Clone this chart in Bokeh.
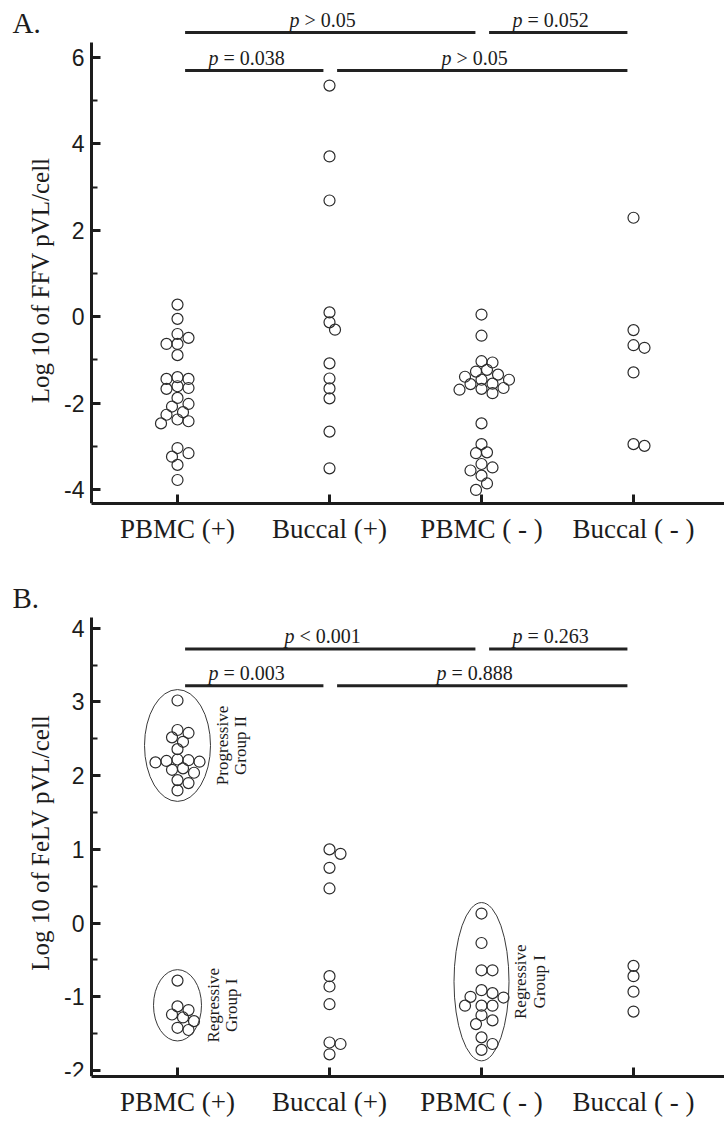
import math
from bokeh.plotting import figure
from bokeh.layouts import column
from bokeh.models import FixedTicker, SingleIntervalTicker, ColumnDataSource, Range1d
from bokeh.core.properties import value
from bokeh.embed import file_html
from bokeh.resources import INLINE

categories = ["PBMC (+)", "Buccal (+)", "PBMC ( - )", "Buccal ( - )"]

# ---------------- Panel A: Log 10 of FFV pVL/cell ----------------
a_pbmc_pos = [0.28, -0.05, -0.40, -0.49, -0.63, -0.63, -0.89, -1.40, -1.44, -1.44,
              -1.61, -1.65, -1.67, -1.88, -2.02, -2.08, -2.21, -2.27, -2.38, -2.42,
              -2.47, -3.04, -3.16, -3.24, -3.43, -3.78]
a_buccal_pos = [5.35, 3.71, 2.69, 0.10, -0.13, -0.30, -1.08, -1.43, -1.66, -1.89, -2.66, -3.51]
a_pbmc_neg = [0.05, -0.44, -1.03, -1.06, -1.23, -1.27, -1.34, -1.39, -1.46, -1.46,
              -1.55, -1.56, -1.65, -1.67, -1.69, -1.77, -2.47, -2.95, -3.14, -3.16,
              -3.41, -3.49, -3.56, -3.68, -3.86, -4.01]
a_buccal_neg = [2.29, -0.31, -0.66, -0.72, -1.29, -2.95, -2.99]

a_pairs = [(1, 3), (3, 4), (1, 2), (2, 4)]
a_levels = [2, 2, 1, 1]
a_pvals = ["> 0.05", "= 0.052", "= 0.038", "> 0.05"]

# ---------------- Panel B: Log 10 of FeLV pVL/cell ----------------
b_pbmc_pos_group2 = [3.02, 2.62, 2.58, 2.52, 2.46, 2.36, 2.22, 2.21, 2.20, 2.19,
                     2.18, 2.10, 2.08, 2.04, 1.94, 1.90, 1.80]
b_pbmc_pos_group1 = [-0.78, -1.13, -1.18, -1.24, -1.28, -1.33, -1.42, -1.45]
b_buccal_pos = [1.00, 0.94, 0.75, 0.47, -0.72, -0.86, -1.10, -1.62, -1.64, -1.78]
b_pbmc_neg_group1 = [0.13, -0.27, -0.64, -0.64, -0.91, -0.95, -1.00, -1.01, -1.12,
                     -1.12, -1.12, -1.25, -1.32, -1.37, -1.55, -1.64, -1.72]
b_buccal_neg = [-0.58, -0.72, -0.93, -1.20]

b_pairs = [(1, 3), (3, 4), (1, 2), (2, 4)]
b_levels = [2, 2, 1, 1]
b_pvals = ["< 0.001", "= 0.263", "= 0.003", "= 0.888"]
b_group_names = ["Progressive\nGroup II", "Regressive\nGroup I", "Regressive\nGroup I"]

# ---------------- styling / layout ----------------
SERIF = "Liberation Serif"
SANS = "Liberation Sans"
INK = "#1c1c1c"
FIG_W = 724
PX_X = 152.0
X_START = 1 - 177 / PX_X
X_RANGE = (X_START, X_START + FIG_W / PX_X)
Y_AXIS_AT = X_START + 91 / PX_X

TIMES_W = {".": 0.25, " ": 0.25, "=": 0.564, "<": 0.564, ">": 0.564}


def text_width_em(s):
    return sum(TIMES_W.get(ch, 0.5) for ch in s)


def swarm(vals, px_y, diam=9.0, step=5.5):
    order = sorted(range(len(vals)), key=lambda i: -vals[i])
    placed = []
    offs = [0.0] * len(vals)
    cands = [0.0]
    for m in range(1, 12):
        cands += [m * step, -m * step]
    for i in order:
        y = vals[i] * px_y
        chosen = cands[-1]
        for c in cands:
            if all((c - px) ** 2 + (y - py) ** 2 >= diam ** 2 for px, py in placed):
                chosen = c
                break
        offs[i] = chosen
        placed.append((chosen, y))
    return offs


def make_panel(series, groups, pairs, levels, pvals, level_y, y_range, axis_top,
               fig_h, b_top, b_bot, tick_interval, neg_ticks, letter, letter_y,
               title, title_y):
    frame_h = fig_h - b_top - b_bot
    px_y = frame_h / (y_range[1] - y_range[0])
    p = figure(width=FIG_W, height=fig_h, output_backend="svg", toolbar_location=None,
               x_range=Range1d(*X_RANGE), y_range=Range1d(*y_range),
               min_border_left=0, min_border_right=0,
               min_border_top=b_top, min_border_bottom=b_bot,
               background_fill_color="white", border_fill_color="white")
    p.grid.visible = False
    p.outline_line_color = None

    # points
    xs, ys = [], []
    offsets = []
    for ci, vals in enumerate(series):
        offs = swarm(vals, px_y)
        offsets.append(offs)
        for v, o in zip(vals, offs):
            xs.append(ci + 1 + o / PX_X)
            ys.append(v)
    p.scatter(x=xs, y=ys, marker="circle", size=11, fill_color=None,
              line_color="#2b2b2b", line_width=1.2)

    # group ellipses and labels
    for cat, gvals, name in groups:
        series_vals = series[cat - 1]
        offs = offsets[cat - 1]
        g_offs = [offs[series_vals.index(v)] for v in gvals]
        spread = max(g_offs) - min(g_offs)
        w_px = max(48.0, spread + 22.0)
        pad = 11.0 / px_y
        cy = (max(gvals) + min(gvals)) / 2
        h = (max(gvals) - min(gvals)) + 2 * pad
        p.ellipse(x=[cat], y=[cy], width=[w_px / PX_X], height=[h],
                  fill_color=None, line_color="#3a3a3a", line_width=1.0)
        p.text(x=[cat + (w_px / 2 + 21) / PX_X], y=[cy], text=[name], angle=math.pi / 2,
               text_font=value(SERIF), text_font_size="17px", text_color=INK,
               text_align="center", text_baseline="middle", text_line_height=0.95)

    # significance bars
    fs = 20
    x0s, x1s, bys, tys, px_, rx_, rest = [], [], [], [], [], [], []
    for (a, b), lv, pv in zip(pairs, levels, pvals):
        x0 = a + 0.05
        x1 = b - 0.04
        x0s.append(x0)
        x1s.append(x1)
        by = level_y[lv]
        bys.append(by)
        tys.append(by + 12.5 / px_y)
        cx = (x0 + x1) / 2 - 0.05
        total = 0.5 + 0.25 + text_width_em(pv)
        p_right = cx + (-total / 2 + 0.5) * fs / PX_X
        px_.append(p_right)
        rx_.append(p_right + 0.25 * fs / PX_X)
        rest.append(pv)
    p.segment(x0=x0s, y0=bys, x1=x1s, y1=bys, line_color="#222222", line_width=3)
    src = ColumnDataSource(dict(px=px_, rx=rx_, y=tys, rest=rest, p=["p"] * len(px_)))
    p.text(x="px", y="y", text="p", source=src,
           text_font=value(SERIF), text_font_style="italic", text_font_size=f"{fs}px",
           text_color=INK, text_align="right", text_baseline="middle")
    p.text(x="rx", y="y", text="rest", source=src,
           text_font=value(SERIF), text_font_size=f"{fs}px",
           text_color=INK, text_align="left", text_baseline="middle")

    # panel letter and y-axis title
    p.text(x=[X_START + 12 / PX_X], y=[letter_y], text=[letter],
           text_font=value(SERIF), text_font_size="29px", text_color=INK,
           text_align="left", text_baseline="middle")
    p.text(x=[X_START + 40 / PX_X], y=[title_y], text=[title], angle=math.pi / 2,
           text_font=value(SERIF), text_font_size="25px", text_color=INK,
           text_align="center", text_baseline="middle")

    # axes
    yax = p.yaxis[0]
    yax.fixed_location = Y_AXIS_AT
    yax.ticker = SingleIntervalTicker(interval=tick_interval, num_minor_ticks=2)
    yax.bounds = (y_range[0], axis_top)
    yax.major_label_overrides = {t: "-" + str(abs(t)) for t in neg_ticks}
    xax = p.xaxis[0]
    xax.ticker = FixedTicker(ticks=[1, 2, 3, 4])
    xax.major_label_overrides = {i + 1: c for i, c in enumerate(categories)}
    xax.bounds = (Y_AXIS_AT, X_RANGE[1])
    for ax in (xax, yax):
        ax.axis_line_width = 3
        ax.axis_line_color = INK
        ax.major_tick_line_width = 3
        ax.major_tick_line_color = INK
        ax.major_tick_in = 9
        ax.major_tick_out = 0
        ax.minor_tick_in = 6
        ax.minor_tick_out = 0
        ax.minor_tick_line_width = 2
        ax.minor_tick_line_color = INK
        ax.major_label_text_color = INK
    xax.minor_tick_line_color = None
    xax.major_label_text_font = SERIF
    xax.major_label_text_font_size = "27px"
    xax.major_label_standoff = 10
    yax.major_label_text_font = SANS
    yax.major_label_text_font_size = "23px"
    yax.major_label_standoff = 7
    return p


pA = make_panel(
    series=[a_pbmc_pos, a_buccal_pos, a_pbmc_neg, a_buccal_neg],
    groups=[], pairs=a_pairs, levels=a_levels, pvals=a_pvals,
    level_y={2: 6.58, 1: 5.70}, y_range=(-4.324, 7.088), axis_top=6.35,
    fig_h=556, b_top=10, b_bot=53, tick_interval=2, neg_ticks=[-2, -4],
    letter="A.", letter_y=6.81, title="Log 10 of FFV pVL/cell", title_y=0.84)

pB = make_panel(
    series=[b_pbmc_pos_group2 + b_pbmc_pos_group1, b_buccal_pos, b_pbmc_neg_group1, b_buccal_neg],
    groups=[(1, b_pbmc_pos_group2, b_group_names[0]),
            (1, b_pbmc_pos_group1, b_group_names[1]),
            (3, b_pbmc_neg_group1, b_group_names[2])],
    pairs=b_pairs, levels=b_levels, pvals=b_pvals,
    level_y={2: 3.72, 1: 3.22}, y_range=(-2.081, 4.716), axis_top=4.15,
    fig_h=563, b_top=19, b_bot=41, tick_interval=1, neg_ticks=[-1, -2],
    letter="B.", letter_y=4.405, title="Log 10 of FeLV pVL/cell", title_y=1.09)

layout = column(pA, pB)
open("out.html", "w").write(file_html(layout, INLINE))
